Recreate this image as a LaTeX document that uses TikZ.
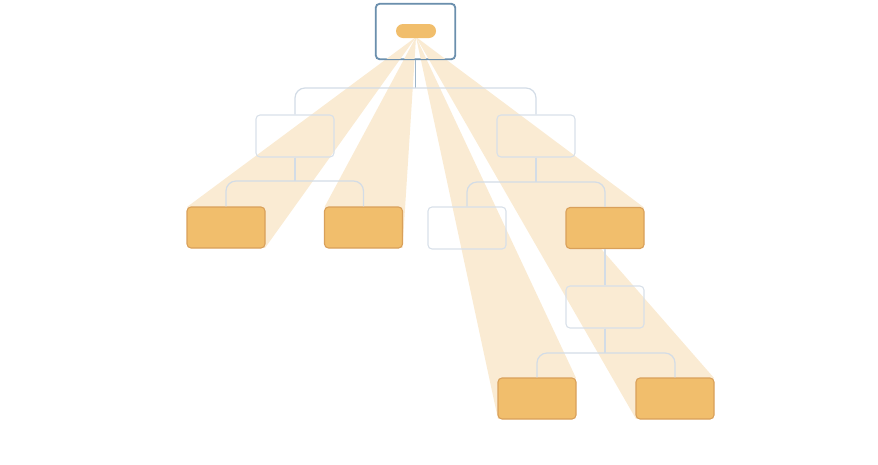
\documentclass[tikz,border=0pt]{standalone}
\usetikzlibrary{calc}
\definecolor{beam}{HTML}{FAEBD3}
\definecolor{orfill}{HTML}{F1BE6C}
\definecolor{ordraw}{HTML}{D9A05A}
\definecolor{rootdraw}{HTML}{6B8FAD}
\definecolor{graydraw}{HTML}{D8E0E9}
\definecolor{linecol}{HTML}{D3DCE6}
\definecolor{rootline}{HTML}{9FB6CA}
\tikzset{
  orbox/.style={draw=ordraw,fill=orfill,line width=1.1pt,rounded corners=4pt,minimum width=78pt,minimum height=41pt,inner sep=0pt},
  graybox/.style={draw=graydraw,line width=1.1pt,rounded corners=4pt,minimum width=78pt,minimum height=42pt,inner sep=0pt},
  rootbox/.style={draw=rootdraw,fill=white,line width=1.1pt,rounded corners=4pt,minimum width=79pt,minimum height=55pt,inner sep=0pt},
  pillbox/.style={fill=orfill,rounded corners=7pt,minimum width=40pt,minimum height=14pt,inner sep=0pt},
  conn/.style={draw=linecol,line width=1.2pt,rounded corners=10pt},
  beamfill/.style={fill=beam,draw=none}
}
\begin{document}
\begin{tikzpicture}[x=1pt,y=-1pt]
\useasboundingbox (0,0) rectangle (878,464);
% root box first
\node[rootbox] (root) at (415.5,31.5) {};
\coordinate (apex) at (416,37);
\coordinate (j1) at (415,88);
\coordinate (j2) at (295,181);
\coordinate (j3) at (536,182);
\coordinate (j4) at (605,353);
% beams
\path[beamfill] (apex) -- (226-39,227.5-20.5) -- (226+39,227.5+20.5) -- cycle;
\path[beamfill] (apex) -- (363.5-39,227.5-20.5) -- (363.5+39,227.5+20.5) -- cycle;
\path[beamfill] (apex) -- (605-39,228+20.5) -- (605+39,228-20.5) -- cycle;
\path[beamfill] (apex) -- (537-39,398.5+20.5) -- (537+39,398.5-20.5) -- cycle;
\path[beamfill] (apex) -- (675-39,398.5+20.5) -- (675+39,398.5-20.5) -- cycle;
% root outline again over the beams, and the pill
\draw[draw=rootdraw,line width=1.1pt,rounded corners=4pt] (root.south west) rectangle (root.north east);
\node[pillbox] (pill) at (416,31) {};
% gray boxes
\node[graybox] (l1a) at (295,136) {};
\node[graybox] (l1b) at (536,136) {};
\node[graybox] (g2) at (467,228) {};
\node[graybox] (g3) at (605,307) {};
% orange boxes
\node[orbox] (a) at (226,227.5) {};
\node[orbox] (b) at (363.5,227.5) {};
\node[orbox] (c) at (605,228) {};
\node[orbox] (d) at (537,398.5) {};
\node[orbox] (e) at (675,398.5) {};
% connectors
\draw[draw=rootline,line width=1.2pt] (root.south) -- (root.south |- j1);
\draw[conn] (l1a.north) -- (l1a.north |- j1) -- (l1b.north |- j1) -- (l1b.north);
\draw[conn] (l1a.south) -- (j2);
\draw[conn] (a.north) -- (a.north |- j2) -- (b.north |- j2) -- (b.north);
\draw[conn] (l1b.south) -- (j3);
\draw[conn] (g2.north) -- (g2.north |- j3) -- (c.north |- j3) -- (c.north);
\draw[conn] (c.south) -- (g3.north);
\draw[conn] (g3.south) -- (j4);
\draw[conn] (d.north) -- (d.north |- j4) -- (e.north |- j4) -- (e.north);
\end{tikzpicture}
\end{document}
